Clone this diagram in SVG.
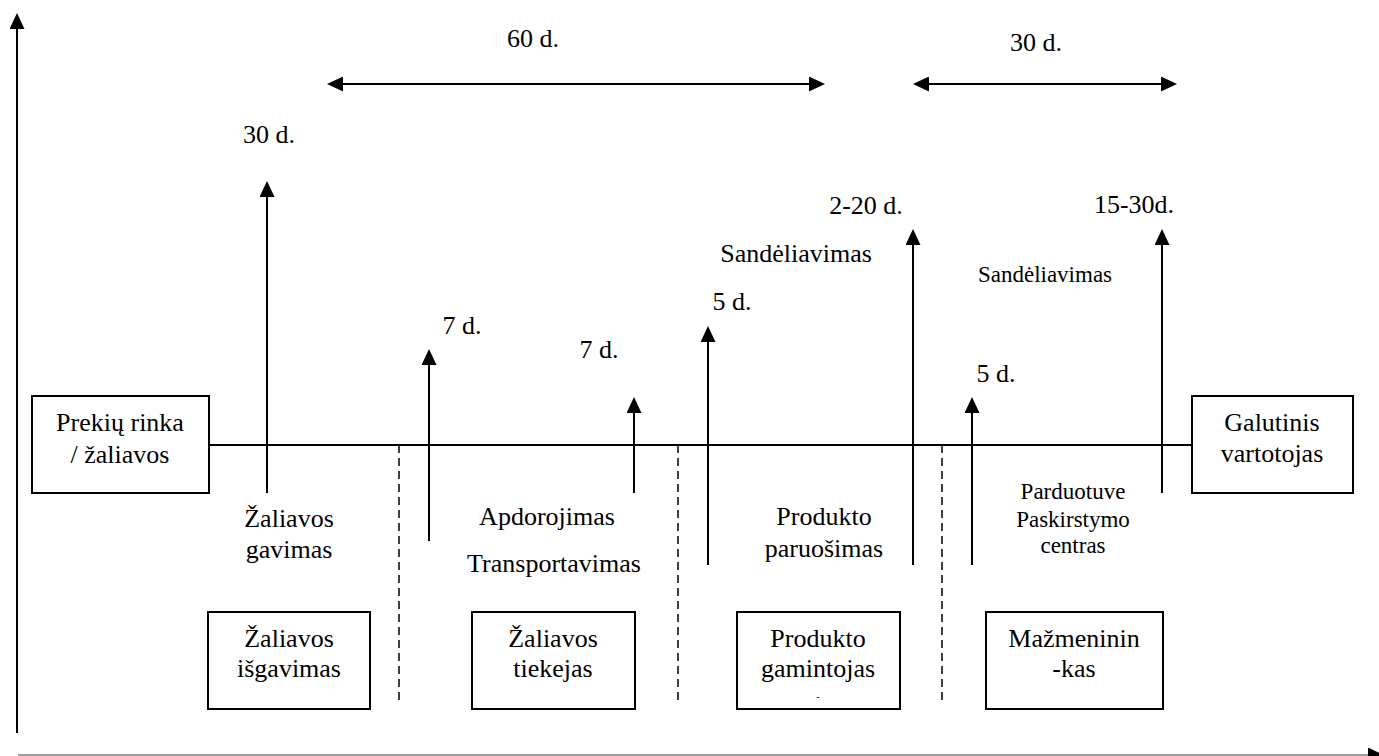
<svg xmlns="http://www.w3.org/2000/svg" width="1379" height="756" viewBox="0 0 1379 756">
<defs>
<style>
.t{font-family:"Liberation Serif","Times New Roman",serif;font-size:26px;fill:#000;text-anchor:middle}
.s{font-size:23px}
.ln{stroke:#000;stroke-width:2;fill:none}
.dash{stroke:#000;stroke-width:1.5;stroke-dasharray:8 5;fill:none}
.box{fill:#fff;stroke:#000;stroke-width:2}
</style>
<marker id="ah" viewBox="0 0 16 15" refX="13" refY="7.5" markerWidth="16" markerHeight="15" markerUnits="userSpaceOnUse" orient="auto-start-reverse">
<path d="M0,0 L16,7.5 L0,15 z" fill="#000"/>
</marker>
</defs>
<rect width="1379" height="756" fill="#fff"/>
<g id="connectors">
<line class="ln" x1="17" y1="733" x2="17" y2="16" marker-end="url(#ah)"/>
<line x1="18" y1="755" x2="1381" y2="755" stroke="#a0a0a0" stroke-width="2" marker-end="url(#ah)"/>
<line class="ln" x1="209" y1="445" x2="1192" y2="445"/>
<line class="dash" x1="399" y1="445" x2="399" y2="703"/>
<line class="dash" x1="678" y1="445" x2="678" y2="703"/>
<line class="dash" x1="942" y1="445" x2="942" y2="703"/>
<line class="ln" x1="330" y1="84" x2="822" y2="84" marker-start="url(#ah)" marker-end="url(#ah)"/>
<line class="ln" x1="916" y1="84" x2="1174" y2="84" marker-start="url(#ah)" marker-end="url(#ah)"/>
<line class="ln" x1="267" y1="493" x2="267" y2="184" marker-end="url(#ah)"/>
<line class="ln" x1="429" y1="541" x2="429" y2="352" marker-end="url(#ah)"/>
<line class="ln" x1="634" y1="493" x2="634" y2="400" marker-end="url(#ah)"/>
<line class="ln" x1="708" y1="565" x2="708" y2="329" marker-end="url(#ah)"/>
<line class="ln" x1="913" y1="565" x2="913" y2="232" marker-end="url(#ah)"/>
<line class="ln" x1="972" y1="565" x2="972" y2="400" marker-end="url(#ah)"/>
<line class="ln" x1="1162" y1="493" x2="1162" y2="232" marker-end="url(#ah)"/>
</g>
<g id="labels">
<text class="t" x="533" y="47">60 d.</text>
<text class="t" x="1036" y="51">30 d.</text>
<text class="t" x="269" y="143">30 d.</text>
<text class="t" x="866" y="214">2-20 d.</text>
<text class="t" x="1134" y="213">15-30d.</text>
<text class="t" x="796" y="262">Sandėliavimas</text>
<text class="t s" x="1045" y="282">Sandėliavimas</text>
<text class="t" x="732" y="310">5 d.</text>
<text class="t" x="462" y="334">7 d.</text>
<text class="t" x="599" y="358">7 d.</text>
<text class="t" x="996" y="382">5 d.</text>
<text class="t" x="289" y="527">Žaliavos</text>
<text class="t" x="289" y="558">gavimas</text>
<text class="t" x="547" y="525">Apdorojimas</text>
<text class="t" x="554" y="572">Transportavimas</text>
<text class="t" x="824" y="525">Produkto</text>
<text class="t" x="824" y="557">paruošimas</text>
<text class="t s" x="1073" y="499">Parduotuve</text>
<text class="t s" x="1073" y="527">Paskirstymo</text>
<text class="t s" x="1073" y="553">centras</text>
</g>
<g id="node-prekiu-rinka">
<rect class="box" x="32" y="396" width="177" height="97"/>
<text class="t" x="120" y="431">Prekių rinka</text>
<text class="t" x="120" y="463">/ žaliavos</text>
</g>
<g id="node-galutinis">
<rect class="box" x="1192" y="396" width="161" height="97"/>
<text class="t" x="1272" y="431">Galutinis</text>
<text class="t" x="1272" y="462">vartotojas</text>
</g>
<g id="node-isgavimas">
<rect class="box" x="208" y="612" width="162" height="97"/>
<text class="t" x="289" y="647">Žaliavos</text>
<text class="t" x="289" y="677">išgavimas</text>
</g>
<g id="node-tiekejas">
<rect class="box" x="472" y="612" width="163" height="97"/>
<text class="t" x="553" y="647">Žaliavos</text>
<text class="t" x="553" y="677">tiekejas</text>
</g>
<g id="node-gamintojas">
<rect class="box" x="737" y="612" width="163" height="97"/>
<text class="t" x="818" y="647">Produkto</text>
<text class="t" x="818" y="677">gamintojas</text>
<text class="t" x="818" y="700" style="font-size:10px">-</text>
</g>
<g id="node-mazmenininkas">
<rect class="box" x="986" y="612" width="177" height="97"/>
<text class="t" x="1074" y="647">Mažmeninin</text>
<text class="t" x="1074" y="677">-kas</text>
</g>
</svg>
